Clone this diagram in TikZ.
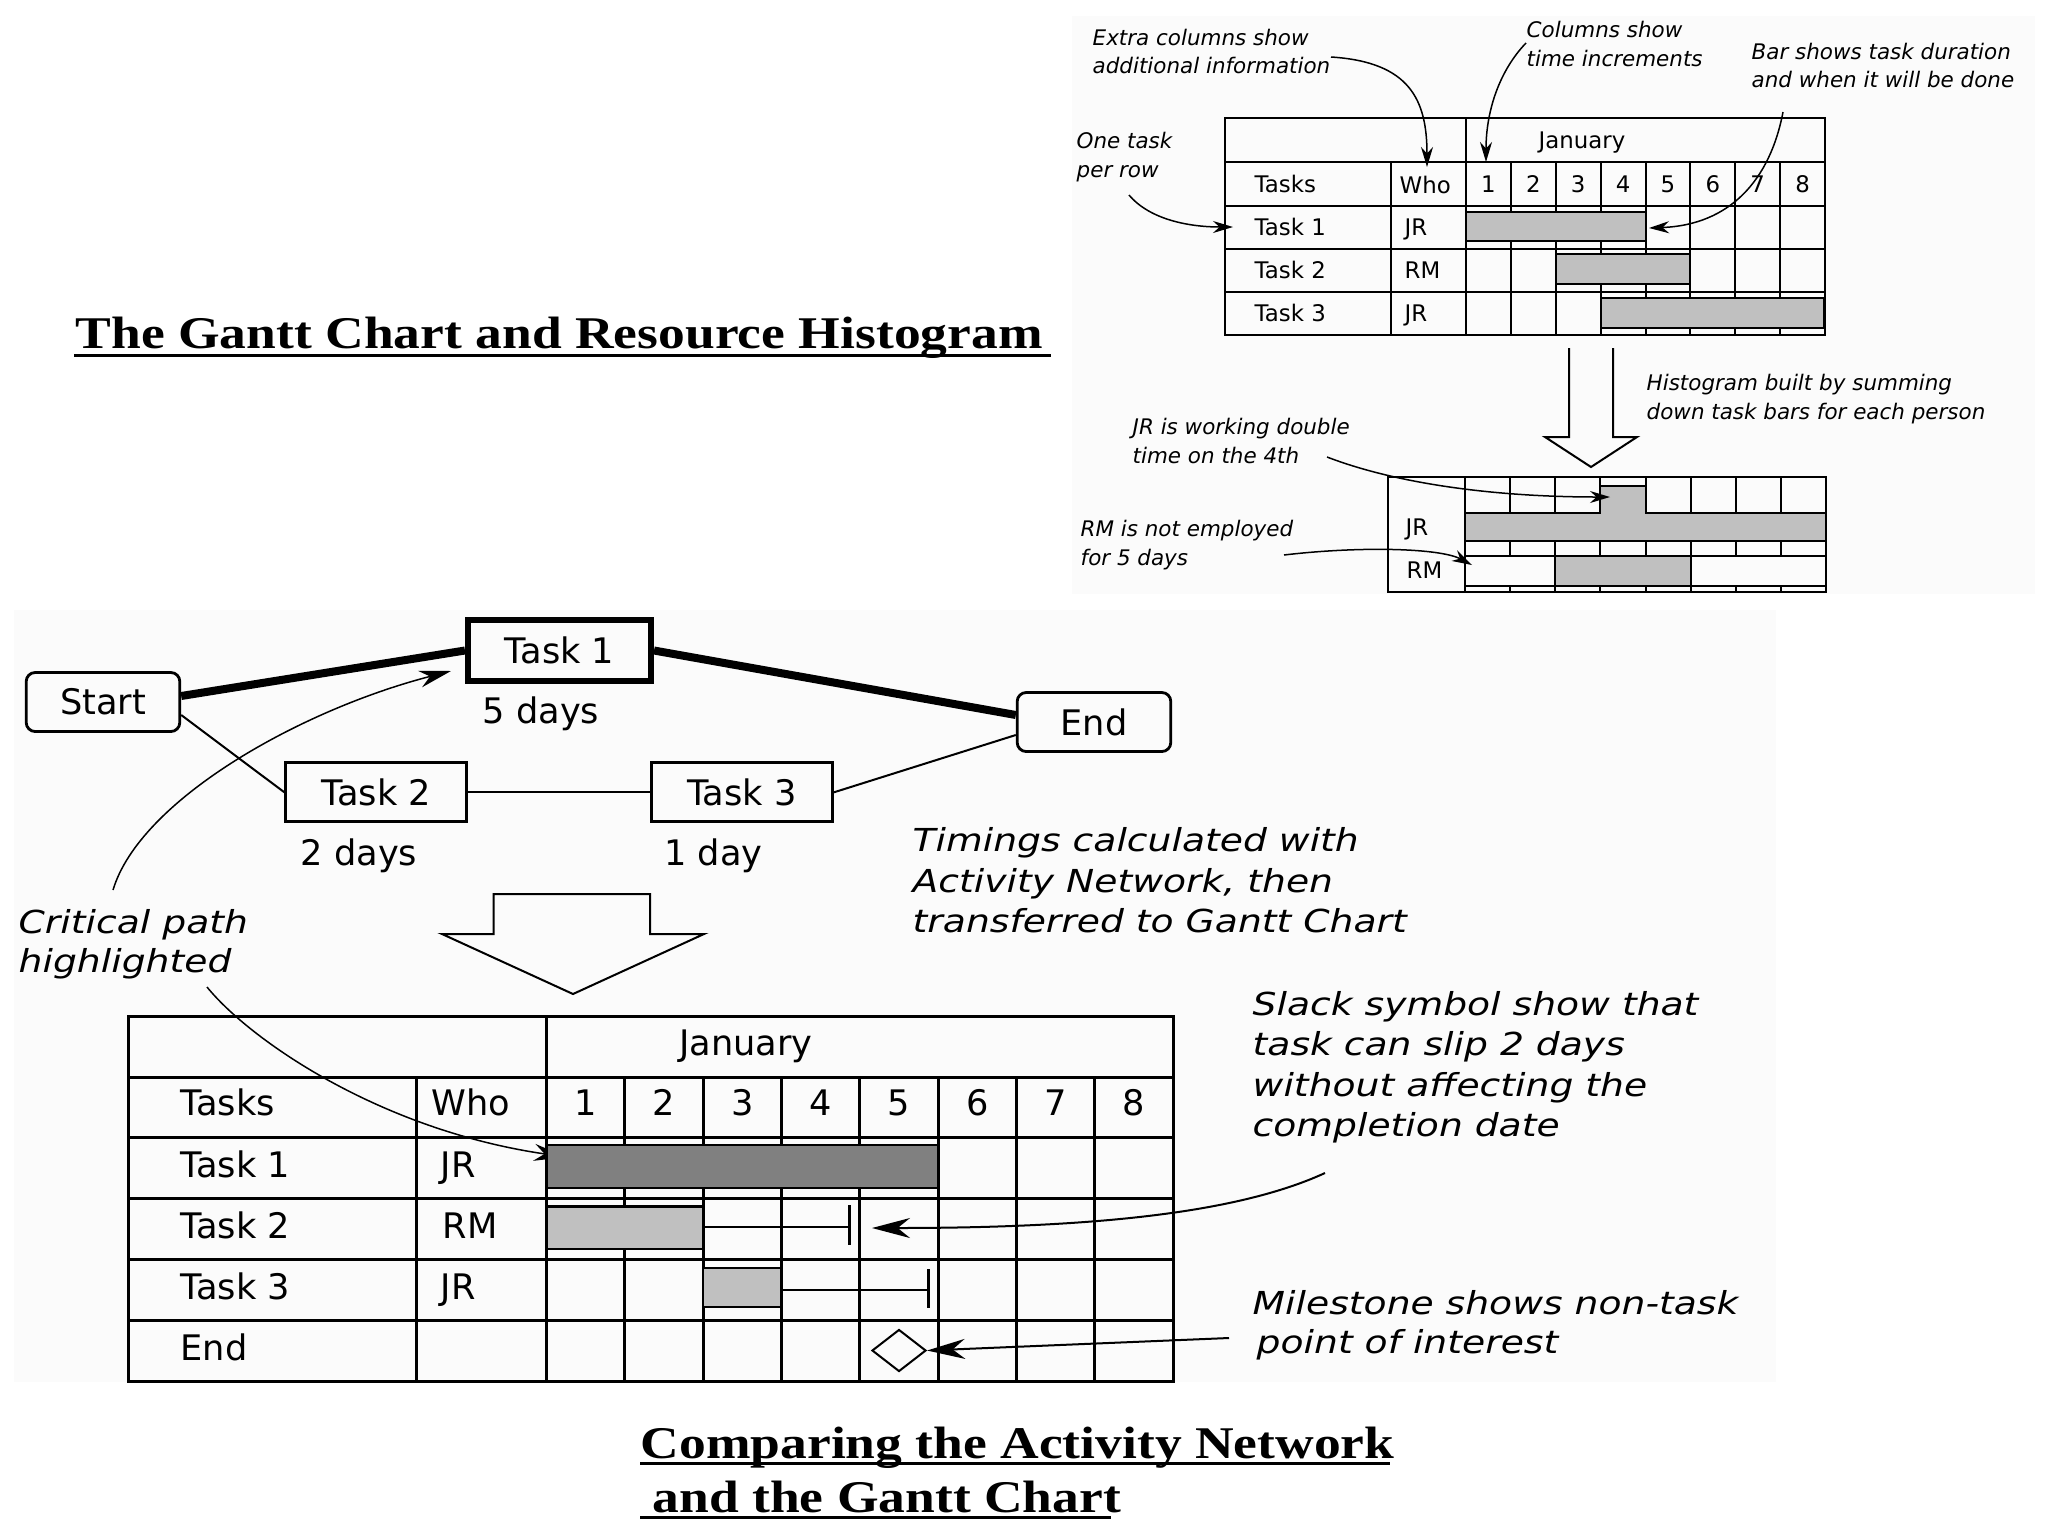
\documentclass[tikz,border=0pt]{standalone}
\usepackage{fontspec}
\setmainfont{Liberation Serif}
\newfontfamily\titlefont[FakeStretch=1.18]{Liberation Serif}
\newfontfamily\dv{DejaVu Sans}
\newfontfamily\annfont[FakeStretch=1.19]{DejaVu Sans}
\usetikzlibrary{arrows.meta,calc,shapes.geometric}
\definecolor{barlight}{HTML}{C0C0C0}
\definecolor{bardark}{HTML}{808080}
\definecolor{panel}{HTML}{FBFBFB}
\tikzset{
  ttl/.style={font=\titlefont\bfseries\fontsize{12.9}{15}\selectfont, inner sep=0, anchor=base west},
  smalltxt/.style={font=\dv\fontsize{6.5}{8}\selectfont, inner sep=0, anchor=base west},
  smallann/.style={font=\dv\itshape\fontsize{6.1}{8}\selectfont, inner sep=0, anchor=base west},
  bigtxt/.style={font=\dv\fontsize{10}{12}\selectfont, inner sep=0, anchor=base west},
  bigann/.style={font=\annfont\itshape\fontsize{9}{11}\selectfont, inner sep=0, anchor=base west},
  tline/.style={line width=0.02cm},
  bline/.style={line width=0.03cm},
  thinline/.style={line width=0.02cm},
  critline/.style={line width=0.08cm},
  rbox/.style={draw, rounded corners=0.09cm, line width=0.028cm, minimum width=1.535cm, minimum height=0.59cm, inner sep=0, font=\dv\fontsize{10}{12}\selectfont},
  tbox/.style={draw, line width=0.028cm, minimum width=1.81cm, minimum height=0.59cm, inner sep=0, font=\dv\fontsize{10}{12}\selectfont},
  sarrow/.style={line width=0.015cm, -{Stealth[length=0.2cm,width=0.12cm]}},
  marrow/.style={line width=0.015cm, -{Stealth[length=0.32cm,width=0.17cm]}},
  barrow/.style={line width=0.02cm, -{Stealth[length=0.38cm,width=0.2cm]}},
}
\begin{document}
\begin{tikzpicture}[x=0.01cm,y=-0.01cm]
\useasboundingbox (0,0) rectangle (2048,1536);
\fill[white] (0,0) rectangle (2048,1536);
\fill[panel] (1072,16) rectangle (2035,594);
\fill[panel] (14,610) rectangle (1776,1382);

% ---------- titles ----------
\node[ttl] (title1) at (75,348) {The Gantt Chart and Resource Histogram};
\draw[line width=0.03cm] (74,355) -- (1051,355);
\node[ttl] (title2) at (640,1458) {Comparing the Activity Network};
\draw[line width=0.03cm] (640,1463) -- (1390,1463);
\node[ttl] (title3) at (652,1512) {and the Gantt Chart};
\draw[line width=0.03cm] (640,1517.5) -- (1111,1517.5);

% ---------- top Gantt chart ----------
\draw[tline] (1225,118) rectangle (1825,334.5);
\foreach \y in {162,205.5,248.5,291.5} \draw[tline] (1225,\y) -- (1825,\y);
\draw[tline] (1391,162) -- (1391,334.5);
\draw[tline] (1466,118) -- (1466,334.5);
\foreach \i in {1,...,7} \draw[tline] ({1466+44.875*\i},162) -- ({1466+44.875*\i},334.5);
\draw[tline, fill=barlight] (1466,212) rectangle (1645.5,241);
\draw[tline, fill=barlight] (1555.75,254) rectangle (1690.4,284);
\draw[tline, fill=barlight] (1600.6,297.5) rectangle (1824,327.5);
\node[smalltxt, anchor=base] (tjan) at (1582,148) {January};
\node[smalltxt] (ttasks) at (1254,192) {Tasks};
\node[smalltxt] (twho) at (1399,193) {Who};
\foreach \i in {1,...,8} \node[smalltxt, anchor=base] (td\i) at ({1466+44.875*(\i-0.5)},192) {\i};
\node[smalltxt] (tt1) at (1254,235) {Task 1};
\node[smalltxt] (tw1) at (1404,235) {JR};
\node[smalltxt] (tt2) at (1254,278) {Task 2};
\node[smalltxt] (tw2) at (1404,278) {RM};
\node[smalltxt] (tt3) at (1254,321) {Task 3};
\node[smalltxt] (tw3) at (1404,321) {JR};

\node[smallann] (a1) at (1092,45) {Extra columns show};
\node[smallann] (a2) at (1092,73) {additional information};
\node[smallann] (a3) at (1526,37) {Columns show};
\node[smallann] (a4) at (1526,66) {time increments};
\node[smallann] (a5) at (1751,59) {Bar shows task duration};
\node[smallann] (a6) at (1751,87) {and when it will be done};
\node[smallann] (a7) at (1076,148) {One task};
\node[smallann] (a8) at (1076,177) {per row};

\coordinate (s1) at (1331,57);   \coordinate (e1) at (1427,167);
\coordinate (s2) at (1526,43);   \coordinate (e2) at (1486,162);
\coordinate (s3) at (1783,112);  \coordinate (e3) at (1649,228);
\coordinate (s4) at (1129,195);  \coordinate (e4) at (1233,227);
\draw[sarrow] (s1) .. controls (1410,62) and (1427,100) .. (e1);
\draw[sarrow] (s2) .. controls (1500,70) and (1486,110) .. (e2);
\draw[sarrow] (s3) .. controls (1770,180) and (1730,225) .. (e3);
\draw[sarrow] (s4) .. controls (1150,220) and (1190,227) .. (e4);

% hollow arrow (top)
\draw[thinline] (1569,348) -- (1569,437) -- (1545,437) -- (1591,467) -- (1637,437) -- (1613,437) -- (1613,348);
\node[smallann] (h1) at (1646,390) {Histogram built by summing};
\node[smallann] (h2) at (1646,419) {down task bars for each person};

% ---------- histogram ----------
\draw[tline] (1388,477) rectangle (1826,592);
\draw[tline] (1465,477) -- (1465,592);
\foreach \y in {513,541,556,586} \draw[tline] (1465,\y) -- (1826,\y);
\foreach \i in {1,...,7} {
  \draw[tline] ({1465+45.125*\i},477) -- ({1465+45.125*\i},513);
  \draw[tline] ({1465+45.125*\i},541) -- ({1465+45.125*\i},556);
  \draw[tline] ({1465+45.125*\i},586) -- ({1465+45.125*\i},592);
}
\draw[tline, fill=barlight] (1465,513) -- (1600.4,513) -- (1600.4,486) -- (1645.5,486) -- (1645.5,513) -- (1826,513) -- (1826,541) -- (1465,541) -- cycle;
\draw[tline, fill=barlight] (1555.25,556) rectangle (1690.6,586);
\node[smalltxt] (hjr) at (1405,535) {JR};
\node[smalltxt] (hrm) at (1406,578) {RM};
\node[smallann] (j1) at (1132,434) {JR is working double};
\node[smallann] (j2) at (1132,463) {time on the 4th};
\node[smallann] (r1) at (1080,536) {RM is not employed};
\node[smallann] (r2) at (1080,565) {for 5 days};
\coordinate (s5) at (1327,457);  \coordinate (e5) at (1610,497);
\coordinate (s6) at (1284,555);  \coordinate (e6) at (1472,565);
\draw[sarrow] (s5) .. controls (1400,485) and (1500,497) .. (e5);
\draw[sarrow] (s6) .. controls (1360,546) and (1440,548) .. (e6);

% ---------- activity network ----------
\node[rbox] (start) at (103,702) {Start};
\node[draw, line width=0.06cm, minimum width=1.83cm, minimum height=0.61cm, inner sep=0, font=\dv\fontsize{10}{12}\selectfont] (task1) at (559.5,650.5) {Task 1};
\node[rbox] (endn) at (1094,722) {End};
\node[tbox] (task2) at (376.3,792.3) {Task 2};
\node[tbox] (task3) at (742,792.3) {Task 3};
\draw[critline] ($(start.east)+(0,-6)$) -- (task1.west);
\draw[critline] (task1.east) -- ($(endn.west)+(0,-7)$);
\draw[thinline] ($(start.east)+(0,13)$) -- (task2.west);
\draw[thinline] (task2.east) -- (task3.west);
\draw[thinline] (task3.east) -- ($(endn.west)+(0,13)$);
\node[bigtxt, anchor=base] (d1) at (541,723) {5 days};
\node[bigtxt, anchor=base] (d2) at (359,865) {2 days};
\node[bigtxt, anchor=base] (d3) at (713.5,865) {1 day};

\node[bigann] (tm1) at (912,851) {Timings calculated with};
\node[bigann] (tm2) at (912,892) {Activity Network, then};
\node[bigann] (tm3) at (912,932) {transferred to Gantt Chart};

% hollow arrow (middle)
\draw[thinline] (493.5,894) -- (493.5,934) -- (442,934) -- (573,994) -- (704,934) -- (650,934) -- (650,894) -- cycle;

\node[bigann] (cp1) at (18,933) {Critical path};
\node[bigann] (cp2) at (18,972) {highlighted};
\coordinate (s7) at (113,890);  \coordinate (e7) at (451,671);
\coordinate (s8) at (207,987);  \coordinate (e8) at (566,1157);
\draw[marrow] (s7) .. controls (140,800) and (300,710) .. (e7);
\draw[marrow] (s8) .. controls (250,1040) and (380,1130) .. (e8);

% ---------- bottom Gantt chart ----------
\draw[bline] (128.5,1016) rectangle (1173,1381);
\foreach \y in {1077.3,1137.5,1198.3,1259,1320.7} \draw[bline] (128.5,\y) -- (1173,\y);
\draw[bline] (416,1077.3) -- (416,1381);
\draw[bline] (546.5,1016) -- (546.5,1381);
\foreach \i in {1,...,7} \draw[bline] ({546.5+78.3125*\i},1077.3) -- ({546.5+78.3125*\i},1381);
\draw[line width=0.025cm, fill=bardark] (546.5,1145) rectangle (938,1188);
\draw[line width=0.025cm, fill=barlight] (546.5,1206.5) rectangle (703.1,1249);
\draw[line width=0.025cm, fill=barlight] (703.1,1268) rectangle (781.4,1307);
\draw[thinline] (703.1,1226.5) -- (849.5,1226.5);
\draw[line width=0.03cm] (849.5,1205) -- (849.5,1245);
\draw[thinline] (781.4,1289.5) -- (928.5,1289.5);
\draw[line width=0.03cm] (928.5,1269) -- (928.5,1308);
\node[draw, diamond, line width=0.02cm, minimum width=0.54cm, minimum height=0.42cm, inner sep=0] (mile) at (899,1350.5) {};

\node[bigtxt, anchor=base] (bjan) at (746,1055) {January};
\node[bigtxt] (btasks) at (180,1115) {Tasks};
\node[bigtxt] (bwho) at (431,1115) {Who};
\foreach \i in {1,...,8} \node[bigtxt, anchor=base] (bd\i) at ({546.5+78.3125*(\i-0.5)},1115) {\i};
\node[bigtxt] (bt1) at (180,1177) {Task 1};
\node[bigtxt] (bw1) at (440,1177) {JR};
\node[bigtxt] (bt2) at (180,1238) {Task 2};
\node[bigtxt] (bw2) at (442,1238) {RM};
\node[bigtxt] (bt3) at (180,1299) {Task 3};
\node[bigtxt] (bw3) at (440,1299) {JR};
\node[bigtxt] (bt4) at (180,1360) {End};

\node[bigann] (sl1) at (1252,1015) {Slack symbol show that};
\node[bigann] (sl2) at (1252,1055) {task can slip 2 days};
\node[bigann] (sl3) at (1252,1096) {without affecting the};
\node[bigann] (sl4) at (1252,1136) {completion date};
\node[bigann] (ms1) at (1252,1314) {Milestone shows non-task};
\node[bigann] (ms2) at (1256,1353) {point of interest};
\coordinate (s9) at (1325,1173);  \coordinate (e9) at (872,1228);
\coordinate (s10) at (1229,1338);
\draw[barrow] (s9) .. controls (1240,1212) and (1100,1228) .. (e9);
\draw[barrow] (s10) -- (mile.east);
\end{tikzpicture}
\end{document}
